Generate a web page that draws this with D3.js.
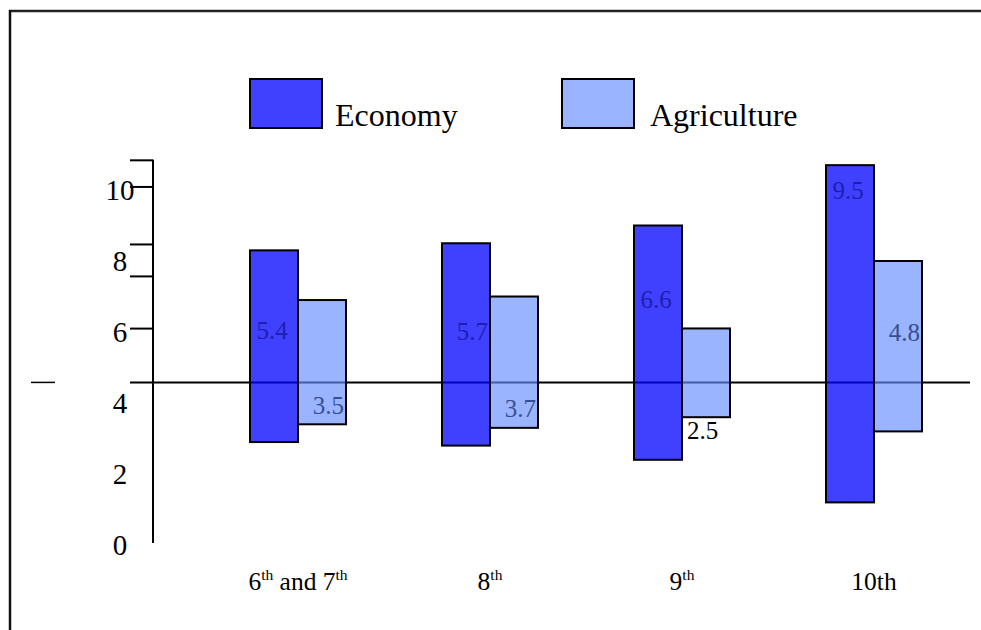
<!DOCTYPE html>
<html>
<head>
<meta charset="utf-8">
<script src="https://cdn.jsdelivr.net/npm/d3@7/dist/d3.min.js"></script>
<style>
  html, body { margin: 0; padding: 0; background: #fff; }
  svg { display: block; }
  svg text { font-family: "Liberation Serif", Tinos, "Times New Roman", Times, serif; }
</style>
</head>
<body>
<svg id="chart" width="981" height="630"></svg>
<script>
// Grade bands on the x axis
const categories = ["6th and 7th", "8th", "9th", "10th"];
const superscriptSuffix = [true, true, true, false];

// Series: each bar floats from its base and spans its value
const seriesNames = ["Economy", "Agriculture"];
const economyValues = [5.4, 5.7, 6.6, 9.5];
const economyBase = [2.9, 2.8, 2.4, 1.2];
const agricultureValues = [3.5, 3.7, 2.5, 4.8];
const agricultureBase = [3.4, 3.3, 3.6, 3.2];

// Axis
const yTickLabels = [0, 2, 4, 6, 8, 10];
const yTickMarks = [10.85, 10.1, 8.48, 7.58, 6.11];
const referenceLevel = 4.58;

// Layout / styling
const W = 981, H = 630;
const FONT = "'Liberation Serif', Tinos, 'Times New Roman', Times, serif";
const svg = d3.select("#chart");

const y = d3.scaleLinear().domain([0, 10]).range([545, 190]);
const axisX = 153;

const x = d3.scaleBand().domain(categories).range([202, 970]).padding(0);
const xs = d3.scaleBand().domain(seriesNames).range([0, 96]).padding(0);
const groupLeft = c => x(c) + x.bandwidth() / 2 - 48;

const fills = { Economy: "rgb(0,0,255)", Agriculture: "rgb(101,140,255)" };
const fillOpacity = { Economy: 0.75, Agriculture: 0.65 };
const labelColor = { Economy: "#1e1eb0", Agriculture: "#364f92" };

// Frame
svg.append("line").attr("x1", 9).attr("x2", W).attr("y1", 11).attr("y2", 11)
  .attr("stroke", "#222").attr("stroke-width", 2.5);
svg.append("line").attr("x1", 10).attr("x2", 10).attr("y1", 10).attr("y2", H)
  .attr("stroke", "#111").attr("stroke-width", 2.5);

// Legend
const legend = svg.append("g");
const legendItems = [
  { name: "Economy", box: 250, text: 335 },
  { name: "Agriculture", box: 562, text: 650 }
];
legendItems.forEach(d => {
  legend.append("rect").attr("x", d.box).attr("y", 79).attr("width", 72).attr("height", 49)
    .attr("fill", fills[d.name]).attr("fill-opacity", fillOpacity[d.name])
    .attr("stroke", "#000").attr("stroke-width", 2);
  legend.append("text").attr("x", d.text).attr("y", 126)
    .attr("font-family", FONT).attr("font-size", 32).attr("fill", "#000").text(d.name);
});

// Y axis line and tick marks
svg.append("line").attr("x1", axisX).attr("x2", axisX)
  .attr("y1", y(yTickMarks[0])).attr("y2", y(0) - 2)
  .attr("stroke", "#000").attr("stroke-width", 2);

const tickAxis = svg.append("g").attr("transform", `translate(${axisX},0)`)
  .call(d3.axisLeft(y).tickValues(yTickMarks).tickSize(23).tickFormat(""));
tickAxis.select(".domain").remove();
tickAxis.selectAll(".tick line").attr("stroke", "#000").attr("stroke-width", 2);

const labelAxis = svg.append("g").attr("transform", `translate(${axisX},0)`)
  .call(d3.axisLeft(y).tickValues(yTickLabels).tickSize(0).tickFormat(d3.format("d")));
labelAxis.attr("font-family", FONT).attr("font-size", 29);
labelAxis.select(".domain").remove();
labelAxis.selectAll(".tick text")
  .attr("x", -33).attr("text-anchor", "middle").attr("fill", "#000");

// Reference line and the short mark beside the axis
svg.append("line").attr("x1", 130).attr("x2", 970)
  .attr("y1", y(referenceLevel)).attr("y2", y(referenceLevel))
  .attr("stroke", "#000").attr("stroke-width", 2);
svg.append("line").attr("x1", 31).attr("x2", 55)
  .attr("y1", y(referenceLevel)).attr("y2", y(referenceLevel))
  .attr("stroke", "#000").attr("stroke-width", 1.5);

// Bar records
const bars = [];
categories.forEach((c, i) => {
  bars.push({ cat: c, series: "Economy", base: economyBase[i], value: economyValues[i], i });
  bars.push({ cat: c, series: "Agriculture", base: agricultureBase[i], value: agricultureValues[i], i });
});
bars.forEach(b => {
  b.x0 = groupLeft(b.cat) + xs(b.series);
  b.x1 = b.x0 + xs.bandwidth();
  b.top = y(b.base + b.value);
  b.bottom = y(b.base);
});

// Where each value label sits on its bar
const labelPlacement = {
  Economy: [
    { anchor: "middle", f: 0.465 }, { anchor: "end", f: 0.476 },
    { anchor: "middle", f: 0.35 }, { anchor: "middle", f: 0.10 }
  ],
  Agriculture: [
    { anchor: "end", f: 0.92 }, { anchor: "end", f: 0.92 },
    { anchor: "start", below: true }, { anchor: "end", f: 0.47 }
  ]
};

// Bar fills (translucent, so the reference line shows through darkened)
svg.append("g").selectAll("rect").data(bars).join("rect")
  .attr("x", d => d.x0).attr("y", d => d.top)
  .attr("width", d => d.x1 - d.x0).attr("height", d => d.bottom - d.top)
  .attr("fill", d => fills[d.series]).attr("fill-opacity", d => fillOpacity[d.series]);

// Bar outlines
svg.append("g").selectAll("rect").data(bars).join("rect")
  .attr("x", d => d.x0).attr("y", d => d.top)
  .attr("width", d => d.x1 - d.x0).attr("height", d => d.bottom - d.top)
  .attr("fill", "none").attr("stroke", "#000").attr("stroke-width", 2);

// Value labels
svg.append("g").selectAll("text").data(bars).join("text")
  .attr("font-family", FONT).attr("font-size", 25)
  .attr("fill", d => (labelPlacement[d.series][d.i].below ? "#000" : labelColor[d.series]))
  .attr("text-anchor", d => labelPlacement[d.series][d.i].anchor)
  .attr("x", d => {
    const p = labelPlacement[d.series][d.i];
    if (p.anchor === "end") return d.x1 - 2;
    if (p.anchor === "start") return d.x0 + 5;
    return (d.x0 + d.x1) / 2 - 2;
  })
  .attr("y", d => {
    const p = labelPlacement[d.series][d.i];
    if (p.below) return d.bottom + 22;
    return d.top + p.f * (d.bottom - d.top);
  })
  .text(d => d3.format(".1f")(d.value));

// Category labels with raised ordinal suffixes
const catLabels = svg.append("g").selectAll("text").data(categories).join("text")
  .attr("x", d => x(d) + x.bandwidth() / 2)
  .attr("y", 590).attr("text-anchor", "middle").attr("fill", "#000")
  .attr("font-family", FONT).attr("font-size", 25.5);
catLabels.each(function (d, i) {
  const t = d3.select(this);
  if (!superscriptSuffix[i]) { t.text(d); return; }
  const parts = d.split(/(th)/).filter(s => s.length);
  let raised = false;
  parts.forEach(p => {
    if (p === "th") {
      t.append("tspan").attr("font-size", 15.5).attr("dy", -10).text(p);
      raised = true;
    } else {
      t.append("tspan").attr("dy", raised ? 10 : 0).text(p);
      raised = false;
    }
  });
});
</script>
</body>
</html>
